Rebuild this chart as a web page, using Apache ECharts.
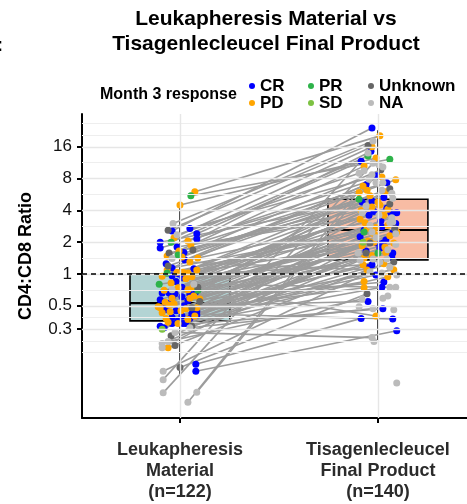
<!DOCTYPE html>
<html>
<head>
<meta charset="utf-8">
<script src="https://cdn.jsdelivr.net/npm/echarts@6/dist/echarts.min.js"></script>
<style>
html, body { margin: 0; padding: 0; background: #fff; }
#chart { width: 467px; height: 504px; }
</style>
</head>
<body>
<div id="chart"></div>
<script>
// labels
var groupLabels = ['Leukapheresis\nMaterial\n(n=122)', 'Tisagenlecleucel\nFinal Product\n(n=140)'];
var yTickLabels = ['0.3', '0.5', '1', '2', '4', '8', '16'];
var minorGrid = [0.18, 0.23, 0.387, 0.707, 1.414, 2.83, 5.66, 11.3, 20.7, 27];
var responses = ['CR', 'PD', 'PR', 'SD', 'Unknown', 'NA'];

// box stats, CD4:CD8 ratio: [low whisker, q1, median, q3, high whisker]
var boxLeuka = [0.11, 0.36, 0.53, 1.0, 4.7];
var boxFinal = [0.237, 1.36, 2.61, 5.1, 23];

// points [ratio, jitter]; left/right matched by index within each response
var crLeft = [[2.55,-.04],[2.7,.05],[2.4,.085],[2.15,.085],[2.0,-.1],[1.76,-.1],[1.8,-.015],[1.36,.025],[1.14,-.04],[1.0,-.005],[0.94,.015],[0.96,-.04],[0.92,.015],[0.66,-.09],[0.66,-.055],[0.65,-.025],[0.61,.01],[0.57,-.1],[0.48,-.085],[0.46,-.07],[0.45,-.02],[0.44,.085],[0.41,.085],[0.39,-.04],[0.40,.01],[0.38,.05],[0.34,-.04],[0.34,.015],[0.34,.03],[0.32,-.1],[0.31,-.08],[0.14,.08],[0.12,.08],[0.85,-.02],[0.56,.04],[0.5,.02],[0.42,.06],[0.68,.08],[0.53,-.06],[0.36,-.01],[1.25,-.07],[1.6,.02],[0.6,-.04],[0.75,.01],[1.12,.07],[0.64,.05]];
var crRight = [[24.1,-.03],[8.5,-.005],[11.7,-.085],[14.5,-.035],[4.9,-.03],[7.3,.045],[3.8,.065],[7.0,-.06],[2.8,.02],[5.3,.03],[3.6,-.045],[1.97,-.005],[4.2,.045],[3.9,-.02],[2.45,.075],[1.58,.075],[4.8,-.08],[3.0,.09],[2.1,.04],[3.2,.015],[1.22,-.03],[2.6,-.07],[3.8,.095],[1.45,.07],[0.98,-.01],[2.25,-.09],[1.65,-.06],[0.75,.02],[1.75,.01],[0.47,.025],[1.15,-.05],[0.38,-.085],[0.29,.095],[1.97,.025],[0.84,.03],[0.55,-.05],[0.375,.075]];
var pdLeft = [[6.0,.075],[4.5,0],[2.2,-.03],[2.05,.04],[1.88,.055],[1.48,-.065],[1.65,-.005],[1.45,.01],[1.42,.09],[1.09,-.065],[1.04,-.015],[1.04,.015],[1.02,.04],[1.09,.085],[0.94,.06],[0.74,-.01],[0.71,.04],[0.75,.065],[0.59,-.04],[0.59,.05],[0.54,-.075],[0.49,-.11],[0.48,-.1],[0.51,-.055],[0.48,.085],[0.40,.075],[0.35,-.06],[0.34,-.01],[0.37,.04],[0.20,-.06],[0.9,.03],[0.62,.07],[0.52,-.03],[0.44,-.05],[0.7,-.08],[0.58,.1],[0.47,.03],[0.38,-.07],[1.3,.05],[0.95,-.09],[0.45,.005],[0.82,-.045],[0.43,-.09]];
var pdRight = [[20.3,.01],[12.5,-.01],[16,-.03],[8.3,.02],[6.2,-.055],[10.5,-.07],[4.8,0],[7.8,.09],[3.05,-.065],[6.8,-.075],[2.7,-.055],[5.5,-.04],[4.1,.05],[2.45,-.025],[3.6,.03],[6.0,.04],[2.35,-.015],[4.5,.01],[1.97,.08],[5.9,-.095],[2.9,.05],[1.6,.04],[4.3,-.03],[2.05,-.05],[3.3,-.09],[1.42,-.07],[2.5,.095],[0.94,.05],[1.8,.035],[1.25,.03],[4.0,-.085],[2.75,-.01],[1.5,-.03],[2.3,.06],[1.85,-.08],[2.0,-.02],[1.1,.08],[0.85,-.07],[1.09,-.055],[1.22,-.075],[0.74,-.07],[0.40,-.01]];
var prLeft = [[5.5,.055],[2.0,-.045],[1.51,-.01],[1.02,-.065],[0.80,-.105],[0.7,.09]];
var prRight = [[12.2,.06],[13.1,-.05],[5.1,-.095],[2.5,-.07],[1.58,0]];
var sdLeft = [[0.30,-.09]];
var sdRight = [[2.0,-.075]];
var unkLeft = [[2.6,-.06],[1.69,.065],[1.58,-.055],[1.19,-.06],[0.75,.09],[0.48,.06],[0.32,.06],[0.26,-.045],[0.13,0],[0.21,-.025],[0.55,.1]];
var unkRight = [[16.5,-.05],[9.7,.015],[4.6,.06],[6.4,.06],[2.7,.085],[1.97,-.04],[1.3,.08],[1.58,-.06],[0.65,-.055]];
var naLeft = [[3.0,-.035],[2.35,-.015],[0.71,-.04],[0.22,-.09],[0.23,-.06],[0.20,-.09],[0.12,-.085],[0.8,.07],[0.31,.05],[0.28,-.025],[1.4,-.04],[0.10,-.085],[0.075,-.085],[0.076,.085],[0.061,.04]];
var naRight = [[18.2,-.025],[9.0,-.095],[3.4,.07],[1.35,-.09],[0.58,-.08],[2.2,-.01],[1.05,-.04],[0.75,.06],[0.47,-.025],[0.25,-.03],[5.8,.07],[14.0,-.05],[11.2,-.025],[10.3,.025],[8.7,-.03],[7.3,.025],[7.3,-.01],[6.2,.02],[5.2,.075],[3.6,.005],[2.5,-.03],[3.05,.06],[3.1,.075],[1.58,-.1],[1.39,-.025],[1.3,.01],[1.39,.045],[1.16,.06],[1.02,.02],[0.98,.095],[0.75,.09],[0.59,.025],[0.49,-.095],[0.46,.08],[0.23,-.02],[0.093,.095],[4.4,-.06],[2.9,-.04],[1.9,.09],[1.7,.05],[3.8,-.08],[9.5,-.07],[2.4,.09],[0.62,.05],[10.8,.005],[7.9,-.045]];

var groups = [
    {name: 'CR', color: '#0000ff', left: crLeft, right: crRight},
    {name: 'PD', color: '#ffa500', left: pdLeft, right: pdRight},
    {name: 'PR', color: '#2eb34a', left: prLeft, right: prRight},
    {name: 'SD', color: '#7dc242', left: sdLeft, right: sdRight},
    {name: 'Unknown', color: '#666666', left: unkLeft, right: unkRight},
    {name: 'NA', color: '#bbbbbb', left: naLeft, right: naRight}
];

var FONT = '"Liberation Sans", Arial, Helvetica, sans-serif';
var lg = function(v) { return Math.log2(v); };
var yTickVals = yTickLabels.map(function(t) { return lg(Number(t)); });

// paired lines
var pairLines = [];
groups.forEach(function(g) {
    var n = Math.min(g.left.length, g.right.length);
    for (var i = 0; i < n; i++) {
        pairLines.push({coords: [[1 + g.left[i][1], lg(g.left[i][0])], [2 + g.right[i][1], lg(g.right[i][0])]]});
    }
});

var boxColors = ['#b3d4d4', '#f8bca4'];
var boxData = [[1].concat(boxLeuka.map(lg)), [2].concat(boxFinal.map(lg))];

var series = [];
// grid lines
series.push({
    type: 'line', data: [], z: 0, silent: true,
    markLine: {
        silent: true, symbol: 'none', label: {show: false}, animation: false,
        data: yTickVals.map(function(v) { return {yAxis: v, lineStyle: {color: '#e6e6e6', width: 1.4, type: 'solid'}}; })
            .concat(minorGrid.map(function(v) { return {yAxis: lg(v), lineStyle: {color: '#eeeeee', width: 1, type: 'solid'}}; }))
            .concat([1, 2].map(function(v) { return {xAxis: v, lineStyle: {color: '#e6e6e6', width: 1.4, type: 'solid'}}; }))
    }
});
// boxes
series.push({
    type: 'custom', z: 1, silent: true,
    encode: {x: 0, y: [1, 2, 3, 4, 5]},
    data: boxData,
    renderItem: function(params, api) {
        var x = api.value(0), hw = 0.2525;
        var lo = api.coord([x, api.value(1)]);
        var q1 = api.coord([x, api.value(2)]);
        var md = api.coord([x, api.value(3)]);
        var q3 = api.coord([x, api.value(4)]);
        var hi = api.coord([x, api.value(5)]);
        var xl = api.coord([x - hw, 0])[0], xr = api.coord([x + hw, 0])[0];
        return {type: 'group', children: [
            {type: 'line', shape: {x1: lo[0], y1: lo[1], x2: q1[0], y2: q1[1]}, style: {stroke: '#000', lineWidth: 1.6}},
            {type: 'line', shape: {x1: q3[0], y1: q3[1], x2: hi[0], y2: hi[1]}, style: {stroke: '#000', lineWidth: 1.6}},
            {type: 'rect', shape: {x: xl, y: q3[1], width: xr - xl, height: q1[1] - q3[1]},
                style: {fill: boxColors[params.dataIndex], stroke: '#000', lineWidth: 1.6}},
            {type: 'line', shape: {x1: xl, y1: md[1], x2: xr, y2: md[1]}, style: {stroke: '#000', lineWidth: 2.2}}
        ]};
    }
});
// lines between paired samples
series.push({
    type: 'lines', coordinateSystem: 'cartesian2d', z: 2, silent: true,
    lineStyle: {color: '#9c9c9c', width: 1.6, opacity: 1},
    data: pairLines,
    markLine: {
        silent: true, symbol: 'none', label: {show: false}, animation: false,
        data: [{yAxis: 0}],
        lineStyle: {color: '#000', width: 1.5, type: [5, 4]}
    }
});
// points
groups.forEach(function(g) {
    var pts = g.left.map(function(p) { return [1 + p[1], lg(p[0])]; })
        .concat(g.right.map(function(p) { return [2 + p[1], lg(p[0])]; }));
    series.push({
        name: g.name, type: 'scatter', z: 3, symbol: 'circle', symbolSize: 7,
        itemStyle: {color: g.color, opacity: 1}, data: pts
    });
});

var legendBase = {
    orient: 'vertical', top: 77.5, padding: 0, itemGap: 0, itemWidth: 6, itemHeight: 6,
    icon: 'circle', selectedMode: false,
    textStyle: {fontSize: 17, fontWeight: 'bold', color: '#000', lineHeight: 17, fontFamily: FONT}
};
function leg(names, left) {
    var o = {};
    for (var k in legendBase) o[k] = legendBase[k];
    o.data = names; o.left = left;
    return o;
}

var chart = echarts.init(document.getElementById('chart'));
chart.setOption({
    animation: false,
    backgroundColor: '#fff',
    textStyle: {fontFamily: FONT},
    grid: {left: 82, right: 0, top: 114, bottom: 86, containLabel: false, outerBoundsMode: 'none'},
    legend: [leg(['CR', 'PD'], 249), leg(['PR', 'SD'], 308), leg(['Unknown', 'NA'], 368)],
    xAxis: {
        type: 'value', min: 0.505, max: 2.45,
        axisLine: {show: true, onZero: false, lineStyle: {color: '#000', width: 2}},
        axisTick: {show: true, customValues: [1, 2], length: 5, lineStyle: {color: '#000', width: 2}},
        axisLabel: {
            customValues: [1, 2], margin: 22, fontSize: 18, fontWeight: 'bold', color: '#2b2b2b',
            lineHeight: 21, fontFamily: FONT,
            formatter: function(v) { return groupLabels[Math.round(v) - 1]; }
        },
        splitLine: {show: false}
    },
    yAxis: {
        type: 'value', min: -4.528, max: 5.031,
        axisLine: {show: true, onZero: false, lineStyle: {color: '#000', width: 2}},
        axisTick: {show: true, customValues: yTickVals, length: 5, lineStyle: {color: '#000', width: 2}},
        axisLabel: {
            customValues: yTickVals, margin: 10, fontSize: 17, color: '#111', fontFamily: FONT,
            formatter: function(v) {
                var best = 0;
                yTickVals.forEach(function(t, i) { if (Math.abs(t - v) < Math.abs(yTickVals[best] - v)) best = i; });
                return yTickLabels[best];
            }
        },
        splitLine: {show: false}
    },
    graphic: [
        {type: 'text', x: 266, y: 7, silent: true,
            style: {text: 'Leukapheresis Material vs\nTisagenlecleucel Final Product', align: 'center', verticalAlign: 'top',
                fontSize: 21, fontWeight: 'bold', fontFamily: FONT, lineHeight: 25, fill: '#000'}},
        {type: 'text', x: 100, y: 95, silent: true,
            style: {text: 'Month 3 response', align: 'left', verticalAlign: 'middle',
                fontSize: 16, fontWeight: 'bold', fontFamily: FONT, fill: '#000'}},
        {type: 'text', x: 26, y: 256, rotation: Math.PI / 2, silent: true,
            style: {text: 'CD4:CD8 Ratio', align: 'center', verticalAlign: 'middle',
                fontSize: 18, fontWeight: 'bold', fontFamily: FONT, fill: '#000'}},
        {type: 'text', x: -3, y: 46, silent: true,
            style: {text: ':', align: 'left', verticalAlign: 'middle',
                fontSize: 18, fontWeight: 'bold', fontFamily: FONT, fill: '#000'}}
    ],
    series: series
});
</script>
</body>
</html>
